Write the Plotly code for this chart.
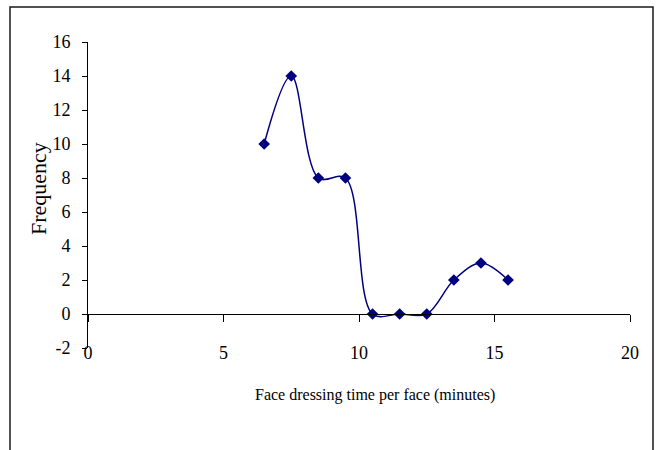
import plotly.graph_objects as go

# Face dressing time class midpoints (minutes) and observed frequencies
dressing_time = [6.5, 7.5, 8.5, 9.5, 10.5, 11.5, 12.5, 13.5, 14.5, 15.5]
frequency = [10, 14, 8, 8, 0, 0, 0, 2, 3, 2]

x_ticks = [0, 5, 10, 15, 20]
y_ticks = [-2, 0, 2, 4, 6, 8, 10, 12, 14, 16]

NAVY = "#000080"
FONT = "Liberation Serif"

W, H = 661, 450
ML, MR, MT, MB = 88, 31, 42, 102
plot_w = W - ML - MR
plot_h = H - MT - MB


def px_to_paper_x(px):
    return (px - ML) / plot_w


def px_to_paper_y(py):
    return (H - MB - py) / plot_h


fig = go.Figure()

fig.add_trace(go.Scatter(
    x=dressing_time,
    y=frequency,
    mode="lines+markers",
    line=dict(color=NAVY, width=1.5, shape="spline", smoothing=1.0),
    marker=dict(symbol="diamond", size=9, color=NAVY),
    showlegend=False,
    hoverinfo="x+y",
))

# Invisible trace that binds the overlaid x axis (the one crossing at y = 0)
fig.add_trace(go.Scatter(
    x=[x_ticks[0], x_ticks[-1]], y=[0, 0], xaxis="x2", yaxis="y",
    mode="lines", line=dict(width=0), showlegend=False, hoverinfo="skip",
))

y_min, y_max = y_ticks[0], y_ticks[-1]
zero_pos = (0 - y_min) / (y_max - y_min)

fig.update_layout(
    width=W, height=H,
    margin=dict(l=ML, r=MR, t=MT, b=MB),
    paper_bgcolor="white",
    plot_bgcolor="white",
    font=dict(family=FONT, color="black", size=18),
    xaxis=dict(
        range=[x_ticks[0], x_ticks[-1]],
        tickmode="array", tickvals=x_ticks, ticktext=[str(v) for v in x_ticks],
        ticks="", showline=False, showgrid=False, zeroline=False,
        anchor="free", position=px_to_paper_y(340),
        tickfont=dict(family=FONT, size=18, color="black"),
    ),
    xaxis2=dict(
        range=[x_ticks[0], x_ticks[-1]], overlaying="x",
        tickmode="array", tickvals=x_ticks,
        ticks="outside", ticklen=7, tickcolor="black", tickwidth=1,
        showline=True, linecolor="black", linewidth=1,
        showticklabels=False, showgrid=False, zeroline=False,
        anchor="free", position=zero_pos, side="bottom",
    ),
    yaxis=dict(
        range=[y_min, y_max],
        tickmode="array", tickvals=y_ticks, ticktext=[str(v) for v in y_ticks],
        ticks="outside", ticklen=5, tickcolor="black", tickwidth=1,
        showline=True, linecolor="black", linewidth=1,
        showgrid=False, zeroline=False,
        ticklabelstandoff=8,
        tickfont=dict(family=FONT, size=18, color="black"),
    ),
    annotations=[
        dict(
            text="Frequency", textangle=-90,
            xref="paper", yref="paper",
            x=px_to_paper_x(38), y=px_to_paper_y(189),
            showarrow=False, xanchor="center", yanchor="middle",
            font=dict(family=FONT, size=22, color="black"),
        ),
        dict(
            text="Face dressing time per face (minutes)",
            xref="paper", yref="paper",
            x=px_to_paper_x(375), y=px_to_paper_y(395),
            showarrow=False, xanchor="center", yanchor="middle",
            font=dict(family=FONT, size=16, color="black"),
        ),
    ],
    shapes=[
        dict(
            type="rect", xref="paper", yref="paper", layer="above",
            x0=px_to_paper_x(10), x1=px_to_paper_x(653),
            y0=px_to_paper_y(470), y1=px_to_paper_y(7),
            line=dict(color="#1a1a1a", width=1.5),
        ),
    ],
)

fig.write_html("out.html")
